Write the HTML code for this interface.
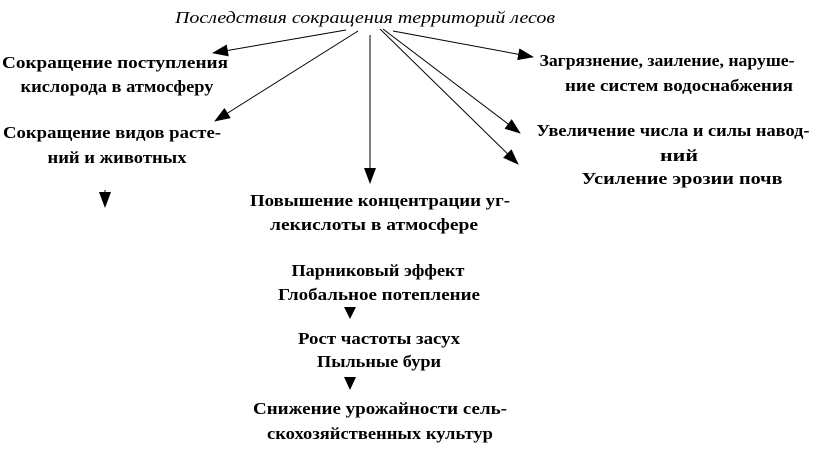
<!DOCTYPE html>
<html><head><meta charset="utf-8"><style>
html,body{margin:0;padding:0;background:#fff;}
svg{display:block;}
text{font-family:"Liberation Serif",serif;font-size:17px;font-weight:bold;fill:#000;text-anchor:middle;}
</style></head><body>
<svg width="821" height="450" viewBox="0 0 821 450" xmlns="http://www.w3.org/2000/svg">
<defs><marker id="a" markerWidth="16" markerHeight="12" refX="15" refY="6" orient="auto" markerUnits="userSpaceOnUse"><path d="M0,0 L16,6 L0,12 z" fill="#000"/></marker></defs>
<text x="365" y="23" font-style="italic" style="font-weight:normal" textLength="380" lengthAdjust="spacingAndGlyphs">Последствия сокращения территорий лесов</text>
<g stroke="#000" stroke-width="1" fill="none">
<line x1="346" y1="30" x2="213" y2="53" marker-end="url(#a)"/>
<line x1="358" y1="31" x2="215" y2="121" marker-end="url(#a)"/>
<line x1="370" y1="35" x2="370" y2="183" marker-end="url(#a)"/>
<line x1="393" y1="31" x2="533" y2="57" marker-end="url(#a)"/>
<line x1="383" y1="29" x2="520" y2="133" marker-end="url(#a)"/>
<line x1="380" y1="29" x2="518" y2="164" marker-end="url(#a)"/>
<line x1="105" y1="190" x2="105" y2="207" marker-end="url(#a)"/>
</g>
<path d="M344,307 L356,307 L350,319 z" fill="#000"/>
<path d="M344,377 L356,377 L350,390 z" fill="#000"/>
<text x="115" y="68" textLength="226" lengthAdjust="spacingAndGlyphs">Сокращение поступления</text>
<text x="117" y="92" textLength="193" lengthAdjust="spacingAndGlyphs">кислорода в атмосферу</text>
<text x="112" y="138" textLength="218" lengthAdjust="spacingAndGlyphs">Сокращение видов расте-</text>
<text x="117" y="163" textLength="139" lengthAdjust="spacingAndGlyphs">ний и животных</text>
<text x="380" y="206" textLength="260" lengthAdjust="spacingAndGlyphs">Повышение концентрации уг-</text>
<text x="374" y="230" textLength="208" lengthAdjust="spacingAndGlyphs">лекислоты в атмосфере</text>
<text x="378" y="276" textLength="173" lengthAdjust="spacingAndGlyphs">Парниковый эффект</text>
<text x="379" y="300" textLength="202" lengthAdjust="spacingAndGlyphs">Глобальное потепление</text>
<text x="379" y="344" textLength="162" lengthAdjust="spacingAndGlyphs">Рост частоты засух</text>
<text x="379" y="367" textLength="124" lengthAdjust="spacingAndGlyphs">Пыльные бури</text>
<text x="380" y="414" textLength="254" lengthAdjust="spacingAndGlyphs">Снижение урожайности сель-</text>
<text x="380" y="439" textLength="226" lengthAdjust="spacingAndGlyphs">скохозяйственных культур</text>
<text x="667" y="66" textLength="255" lengthAdjust="spacingAndGlyphs">Загрязнение, заиление, наруше-</text>
<text x="679" y="91" textLength="228" lengthAdjust="spacingAndGlyphs">ние систем водоснабжения</text>
<text x="673" y="136" textLength="273" lengthAdjust="spacingAndGlyphs">Увеличение числа и силы навод-</text>
<text x="679" y="161" textLength="38" lengthAdjust="spacingAndGlyphs">ний</text>
<text x="682" y="184" textLength="201" lengthAdjust="spacingAndGlyphs">Усиление эрозии почв</text>
</svg>
</body></html>
